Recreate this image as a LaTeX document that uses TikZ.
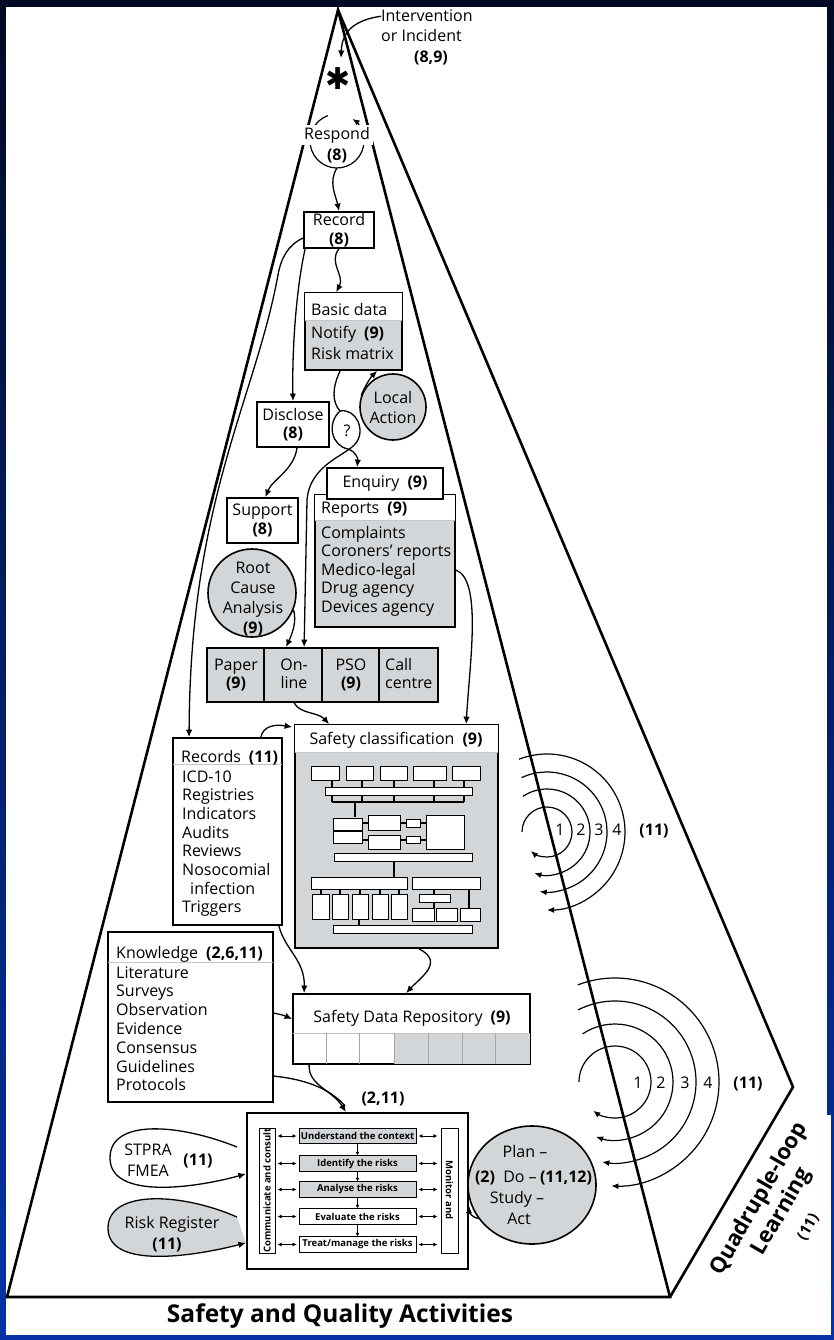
\documentclass[tikz,border=0pt]{standalone}
\usepackage{fontspec}
\usepackage{graphicx}
\setmainfont{Open Sans}
\newfontfamily\symfont{DejaVu Sans}
\usetikzlibrary{arrows.meta,calc,shapes.geometric}

\definecolor{panel}{HTML}{D3D6D8}
\definecolor{framedark}{HTML}{000A24}
\definecolor{frameblue}{HTML}{0533A6}

\tikzset{
  txtbase/.style={font=\fontsize{16}{18.5}\selectfont, inner sep=0pt},
  item/.style={txtbase, anchor=base west},
  ctext/.style={txtbase, anchor=base},
  btext/.style={txtbase, anchor=base, font=\fontsize{16}{18.5}\selectfont\bfseries},
  boxline/.style={draw=black, line width=1.8pt},
  plainbox/.style={boxline, fill=white, inner sep=0pt},
  shadebox/.style={boxline, fill=panel, inner sep=0pt},
  divider/.style={draw=gray!45, line width=0.8pt},
  flow/.style={line width=1.3pt, -{Latex[length=7.5pt,width=6.5pt]}},
  plainflow/.style={line width=1.3pt},
  pyr/.style={line width=2.6pt, line join=miter},
  spiral/.style={line width=1.2pt, -{Latex[length=7pt,width=6pt]}},
  stepbox/.style={draw=black, line width=0.9pt, inner sep=0pt, minimum width=117pt, minimum height=15.5pt},
  steptext/.style={font=\fontsize{9.5}{10}\selectfont\bfseries, inner sep=0pt},
  twoway/.style={line width=0.9pt, {Latex[length=4pt,width=4pt]}-{Latex[length=4pt,width=4pt]}},
  stepdown/.style={line width=0.9pt, -{Latex[length=3.5pt,width=4pt]}},
  orgbox/.style={draw=black, line width=1pt, fill=white},
  orgwire/.style={line width=1.8pt},
  facelabel/.style={inner sep=0pt, rotate=60, align=center, font=\fontsize{22}{26}\selectfont\bfseries},
  balloon/.style={circle, draw=black, line width=1.6pt, fill=panel, inner sep=0pt},
}

\begin{document}
\begin{tikzpicture}[x=1pt,y=-1pt]
\useasboundingbox (0,0) rectangle (834,1340);
% frame
\shade[top color=framedark, bottom color=frameblue] (0,0) rectangle (834,1340);
\fill[white] (6,7) rectangle (827,1335);
\fill[white] (827,1115) rectangle (831,1335);

% pyramid faces
\coordinate (apex) at (338,10);
\coordinate (baseL) at (7,1297);
\coordinate (baseF) at (670,1297);
\coordinate (cornerR) at (793,1087);
\draw[pyr] (baseL) -- (apex) -- (baseF) -- cycle;
\draw[pyr] (apex) -- (cornerR) -- (baseF);

% incident at the apex
\node[item] (interv) at (381,22) {Intervention};
\node[item] (incid) at (381,42) {or Incident};
\node[btext] (incref) at (431,63) {(8,9)};
\node[inner sep=0pt, font=\symfont\fontsize{30}{30}\selectfont] (star) at (338,79) {✱};
\coordinate (starin) at (341,58);
\draw[flow] (interv.west) .. controls (356,20) and (342,30) .. (starin);

% respond loop
\coordinate (respc) at (337,141);
\draw[spiral] ($(respc)+(250:27)$) arc[start angle=250, end angle=-55, radius=27];
\node[txtbase, fill=white, inner xsep=3pt, inner ysep=2pt] (respond) at (337,135) {Respond};
\node[btext] (respond8) at (337,161) {(8)};

% boxes of the upper part
\node[plainbox, minimum width=70pt, minimum height=36pt, txtbase, align=center] (record) at (339,230) {Record\\\textbf{(8)}};

\node[shadebox, minimum width=97pt, minimum height=77pt] (basic) at (353.5,331.5) {};
\fill[white] ($(basic.north west)+(0.9,0.9)$) rectangle ($(basic.north east)+(-0.9,28)$);
\draw[divider] ($(basic.north west)+(0.9,28)$) -- ($(basic.north east)+(-0.9,28)$);
\node[item] (basic1) at (311,315) {Basic data};
\node[item] (basic2) at (311,338) {Notify\enspace\textbf{(9)}};
\node[item] (basic3) at (311,359) {Risk matrix};

\node[balloon, minimum size=66pt, font=\fontsize{16}{20}\selectfont, align=center] (local) at (393,407) {Local\\Action};

\node[plainbox, minimum width=72pt, minimum height=45pt, txtbase, align=center] (disclose) at (293,424.5) {Disclose\\\textbf{(8)}};
\node[plainbox, minimum width=71pt, minimum height=45pt, txtbase, align=center] (support) at (262.5,520.5) {Support\\\textbf{(8)}};

\node[shadebox, minimum width=140pt, minimum height=132pt] (reports) at (385,561) {};
\fill[white] ($(reports.north west)+(0.9,0.9)$) rectangle ($(reports.north east)+(-0.9,26)$);
\draw[divider] ($(reports.north west)+(0.9,26)$) -- ($(reports.north east)+(-0.9,26)$);
\node[item] (rephead) at (321,513) {Reports\enspace\textbf{(9)}};
\foreach \t [count=\i] in {Complaints, Coroners' reports, Medico-legal, Drug agency, Devices agency}
  \node[item] (rep\i) at (321,{538+18.5*(\i-1)}) {\t};
\node[plainbox, minimum width=116pt, minimum height=31pt, txtbase] (enquiry) at (385,483.5) {Enquiry\enspace\textbf{(9)}};

\node[txtbase] (qmark) at (347,431) {?};

% root cause analysis balloon
\node[balloon, minimum size=88pt] (rca) at (252,593) {};
\node[ctext] (rca1) at (253,573) {Root};
\node[ctext] (rca2) at (253,593) {Cause};
\node[ctext] (rca3) at (253,613) {Analysis};
\node[btext] (rca4) at (253,633) {(9)};

% reporting channels
\node[shadebox, minimum width=231pt, minimum height=54pt] (row) at (322.5,675) {};
\foreach \dx in {58,116,173}
  \draw[boxline] ($(row.north west)+(\dx,0)$) -- ($(row.south west)+(\dx,0)$);
\node[ctext] (ch1a) at (236,670) {Paper};
\node[btext] (ch1b) at (236,688) {(9)};
\node[ctext] (ch2a) at (294,670) {On-};
\node[ctext] (ch2b) at (294,688) {line};
\node[ctext] (ch3a) at (351,670) {PSO};
\node[btext] (ch3b) at (351,688) {(9)};
\node[item] (ch4a) at (385,670) {Call};
\node[item] (ch4b) at (385,688) {centre};

% pointer of the balloon
\draw[flow] (rca.-22) .. controls (297,622) and (292,634) .. ($(row.north west)+(80,0)$);

% safety classification
\node[shadebox, minimum width=203pt, minimum height=223pt] (sc) at (396.5,836.5) {};
\fill[white] ($(sc.north west)+(0.9,0.9)$) rectangle ($(sc.north east)+(-0.9,28)$);
\draw[divider] ($(sc.north west)+(0.9,28)$) -- ($(sc.north east)+(-0.9,28)$);
\node[ctext] (schead) at (396,744) {Safety classification\enspace\textbf{(9)}};

\begin{scope}[shift={(sc.north west)}]
  % top level
  \foreach \a/\b in {17/45,52/79,86/113,119/152,158/186}
    \draw[orgbox] (\a,42) rectangle (\b,56);
  \foreach \x in {38,68,100,140,170}
    \draw[orgwire] (\x,56) -- (\x,78);
  \draw[orgbox] (31,63) rectangle (178,71);
  \draw[orgwire] (38,78) -- (170,78);
  \draw[orgwire] (61,78) -- (61,93);
  % middle level
  \draw[orgbox] (39,94) rectangle (68,106);
  \draw[orgbox] (39,107) rectangle (68,119);
  \draw[orgbox] (74,91) rectangle (106,106);
  \draw[orgbox] (74,111) rectangle (106,125);
  \draw[orgbox] (112,95) rectangle (126,103);
  \draw[orgbox] (112,112) rectangle (126,119);
  \draw[orgbox] (132,91) rectangle (170,125);
  \foreach \a/\b in {68/74,106/112,126/132} {
    \draw[orgwire] (\a,99) -- (\b,99);
    \draw[orgwire] (\a,116) -- (\b,116);
  }
  \draw[orgbox] (40,129) rectangle (178,137);
  \draw[orgwire] (100,137) -- (100,153);
  % lower level
  \draw[orgbox] (17,153) rectangle (113,165);
  \draw[orgbox] (118,153) rectangle (186,165);
  \foreach \a/\b in {18/35,38/54,58/74,78/94,97/113} {
    \draw[orgwire] ({(\a+\b)/2},165) -- ({(\a+\b)/2},170);
    \draw[orgbox] (\a,170) rectangle (\b,195);
  }
  \draw[orgwire] (140,165) -- (140,184);
  \draw[orgwire] (175,165) -- (175,184);
  \draw[orgbox] (125,170) rectangle (156,178);
  \foreach \a/\b in {118/140,142/163,166/186}
    \draw[orgbox] (\a,184) rectangle (\b,197);
  \draw[orgwire] (65,195) -- (65,201);
  \draw[orgbox] (39,201) rectangle (178,209);
\end{scope}

% records
\node[plainbox, minimum width=109pt, minimum height=187pt] (records) at (227.5,831.5) {};
\draw[divider] ($(records.north west)+(0.9,27)$) -- ($(records.north east)+(-0.9,27)$);
\node[item] (rechead) at (181,762) {Records\enspace\textbf{(11)}};
\foreach \t [count=\i] in {ICD-10, Registries, Indicators, Audits, Reviews, Nosocomial, \hspace{8pt}infection, Triggers}
  \node[item] (rec\i) at (182,{782+18.7*(\i-1)}) {\t};

% knowledge
\node[plainbox, minimum width=165pt, minimum height=170pt] (knowledge) at (190.5,1017) {};
\draw[divider] ($(knowledge.north west)+(0.9,31)$) -- ($(knowledge.north east)+(-0.9,31)$);
\node[item] (knowhead) at (116,958) {Knowledge\enspace\textbf{(2,6,11)}};
\foreach \t [count=\i] in {Literature, Surveys, Observation, Evidence, Consensus, Guidelines, Protocols}
  \node[item] (know\i) at (116,{978+18.8*(\i-1)}) {\t};

% safety data repository
\node[plainbox, minimum width=237pt, minimum height=70pt] (sdr) at (411.5,1029) {};
\fill[panel] ($(sdr.south west)+(102,-0.9)$) rectangle ($(sdr.north east)+(-0.9,40)$);
\draw[divider] ($(sdr.north west)+(0.9,40)$) -- ($(sdr.north east)+(-0.9,40)$);
\foreach \dx in {34,67,102,136,170,203}
  \draw[draw=gray!70, line width=0.7pt] ($(sdr.north west)+(\dx,40)$) -- ($(sdr.south west)+(\dx,-0.9)$);
\node[ctext] (sdrhead) at (412,1022) {Safety Data Repository\enspace\textbf{(9)}};

% risk management process
\node[draw, line width=2.2pt, fill=white, minimum width=221pt, minimum height=156pt, inner sep=0pt] (risk) at (357.5,1191) {};
\node[draw, line width=0.9pt, minimum width=16pt, minimum height=125pt, inner sep=0pt] (comm) at (267,1190.5) {};
\node[steptext, rotate=90] (commtext) at (comm.center) {Communicate and consult};
\node[draw, line width=0.9pt, minimum width=17pt, minimum height=125pt, inner sep=0pt] (mon) at (449.5,1190.5) {};
\node[steptext, rotate=-90] (montext) at (449.5,1190) {Monitor and};
\node[stepbox, fill=panel] (s1) at (357.5,1136) {};
\node[stepbox, fill=panel] (s2) at (357.5,1163.5) {};
\node[stepbox, fill=panel] (s3) at (357.5,1189.5) {};
\node[stepbox, fill=white] (s4) at (357.5,1216.5) {};
\node[stepbox, fill=white] (s5) at (357.5,1244.5) {};
\node[steptext] (t1) at (s1.center) {Understand the context};
\node[steptext] (t2) at (s2.center) {Identify the risks};
\node[steptext] (t3) at (s3.center) {Analyse the risks};
\node[steptext] (t4) at (s4.center) {Evaluate the risks};
\node[steptext] (t5) at (s5.center) {Treat/manage the risks};
\foreach \i in {1,...,5} {
  \draw[twoway] ($(s\i.west)+(-21,0)$) -- ($(s\i.west)+(-2,0)$);
  \draw[twoway] ($(s\i.east)+(2,0)$) -- ($(s\i.east)+(21,0)$);
}
\foreach \i/\j in {1/2,2/3,3/4,4/5}
  \draw[stepdown] (s\i.south) -- (s\j.north);

% STPRA / FMEA balloon
\coordinate (stpA) at (237,1147);
\fill[white] (stpA) .. controls (180,1124) and (110,1118) .. (110,1158) .. controls (110,1200) and (195,1188) .. ($(risk.north west)+(0,62)$) -- cycle;
\draw[flow] (stpA) .. controls (180,1124) and (110,1118) .. (110,1158) .. controls (110,1200) and (195,1188) .. ($(risk.north west)+(0,62)$);
\node[ctext] (stp1) at (148,1155) {STPRA};
\node[ctext] (stp2) at (148,1176) {FMEA};
\node[btext] (stp3) at (198,1165) {(11)};

% risk register balloon
\coordinate (rrA) at (237,1217);
\fill[panel] (rrA) .. controls (180,1192) and (108,1190) .. (108,1228) .. controls (108,1270) and (195,1256) .. ($(risk.north west)+(0,131)$) -- cycle;
\draw[flow] (rrA) .. controls (180,1192) and (108,1190) .. (108,1228) .. controls (108,1270) and (195,1256) .. ($(risk.north west)+(0,131)$);
\node[ctext] (rr1) at (172,1228) {Risk Register};
\node[btext] (rr2) at (167,1249) {(11)};

% plan-do-study-act
\node[ellipse, draw, line width=1.6pt, fill=panel, minimum width=128pt, minimum height=118pt, inner sep=0pt] (plan) at (532,1185) {};
\draw[flow] (plan.212) .. controls (473,1218) and (469,1212) .. ($(risk.north east)+(0,94)$);
\node[ctext] (pd1) at (525,1157) {Plan –};
\node[ctext] (pd2) at (520,1182) {Do –};
\node[btext] (pd2a) at (485,1182) {(2)};
\node[btext] (pd2b) at (566,1182) {(11,12)};
\node[ctext] (pd3) at (517,1203) {Study –};
\node[ctext] (pd4) at (519,1224) {Act};

% connectors of the upper part
\draw[flow] ($(respc)+(0,27)$) .. controls (328,182) and (336,196) .. (record.north);
\draw[flow] (record.south) .. controls (328,262) and (345,276) .. ($(basic.north west)+(32,0)$);
\draw[flow] ($(record.south west)+(2,0)$) .. controls (296,290) and (292,350) .. (disclose.north);
\draw[flow] ($(record.west)+(0,8)$) .. controls (288,245) and (281,258) .. (278,275) .. controls (255,400) and (190,500) .. ($(records.north west)+(17,0)$);
\draw[flow] ($(disclose.south)+(4,0)$) .. controls (294,470) and (272,480) .. ($(support.north)+(3,0)$);
\draw[flow] (local.160) .. controls (364,388) and (370,378) .. ($(basic.south west)+(73,0)$);
\coordinate (qtop) at (340,411);
\draw[flow] ($(basic.south west)+(36,0)$) .. controls (332,388) and (332,402) .. (qtop) .. controls (326,424) and (332,446) .. (348,449) .. controls (356,452) and (358,458) .. ($(enquiry.north west)+(31,0)$);
\draw[flow] (qtop) .. controls (356,408) and (366,430) .. (356,443) .. controls (346,456) and (310,464) .. (307,500) -- ($(row.north west)+(98,0)$);
\draw[flow] ($(row.south west)+(88,0)$) .. controls (300,714) and (318,712) .. ($(sc.north west)+(35,0)$);
\draw[flow] ($(reports.east)+(0,9)$) .. controls (482,580) and (470,660) .. ($(sc.north west)+(172,0)$);
\draw[flow] ($(records.north east)+(-22,0)$) .. controls (263,726) and (275,724) .. ($(sc.north west)+(-2,3)$);

% connectors of the lower part
\draw[flow] ($(records.south east)+(-4,0)$) .. controls (285,950) and (305,960) .. ($(sdr.north west)+(12,0)$);
\draw[flow] ($(sc.south west)+(125,0)$) .. controls (445,962) and (420,978) .. ($(sdr.north west)+(114,0)$);
\draw[flow] ($(knowledge.north east)+(0,82)$) .. controls (283,1015) .. ($(sdr.west)+(0,-10)$);
\draw[plainflow] ($(knowledge.north east)+(0,145)$) .. controls (312,1080) and (333,1092) .. (345,1106);
\draw[flow] ($(sdr.south west)+(17,0)$) .. controls (308,1085) and (332,1090) .. ($(risk.north west)+(100,0)$);
\node[btext] (mergeref) at (383,1103) {(2,11)};

% learning loops
\coordinate (loopsA) at (547,832);
\draw[spiral] ($(loopsA)+(180:25)$) arc[start angle=180, end angle=490, radius=25];
\draw[spiral] ($(loopsA)+(236:43)$) arc[start angle=236, end angle=467, radius=43];
\draw[spiral] ($(loopsA)+(245:60)$) arc[start angle=245, end angle=457, radius=60];
\draw[spiral] ($(loopsA)+(249:78)$) arc[start angle=249, end angle=450, radius=78];
\node[ctext] (la1) at (560,835) {1};
\node[ctext] (la2) at (581,835) {2};
\node[ctext] (la3) at (599,835) {3};
\node[ctext] (la4) at (617,835) {4};
\node[btext] (la5) at (654,835) {(11)};

\coordinate (loopsB) at (615,1082);
\draw[spiral] ($(loopsB)+(180:36)$) arc[start angle=180, end angle=487, radius=36];
\draw[spiral] ($(loopsB)+(236:58)$) arc[start angle=236, end angle=469, radius=58];
\draw[spiral] ($(loopsB)+(243:81)$) arc[start angle=243, end angle=459, radius=81];
\draw[spiral] ($(loopsB)+(249:104)$) arc[start angle=249, end angle=452, radius=104];
\node[ctext] (lb1) at (638,1088) {1};
\node[ctext] (lb2) at (661,1088) {2};
\node[ctext] (lb3) at (685,1088) {3};
\node[ctext] (lb4) at (708,1088) {4};
\node[btext] (lb5) at (748,1088) {(11)};

% face labels
\node[facelabel] (quad) at (782,1212) {Quadruple-loop\\Learning\\[3pt]{\fontsize{15}{15}\selectfont (11)}};
\node[txtbase, anchor=base, font=\fontsize{24.5}{24.5}\selectfont\bfseries] (title) at (340,1322) {Safety and Quality Activities};
\end{tikzpicture}
\end{document}
